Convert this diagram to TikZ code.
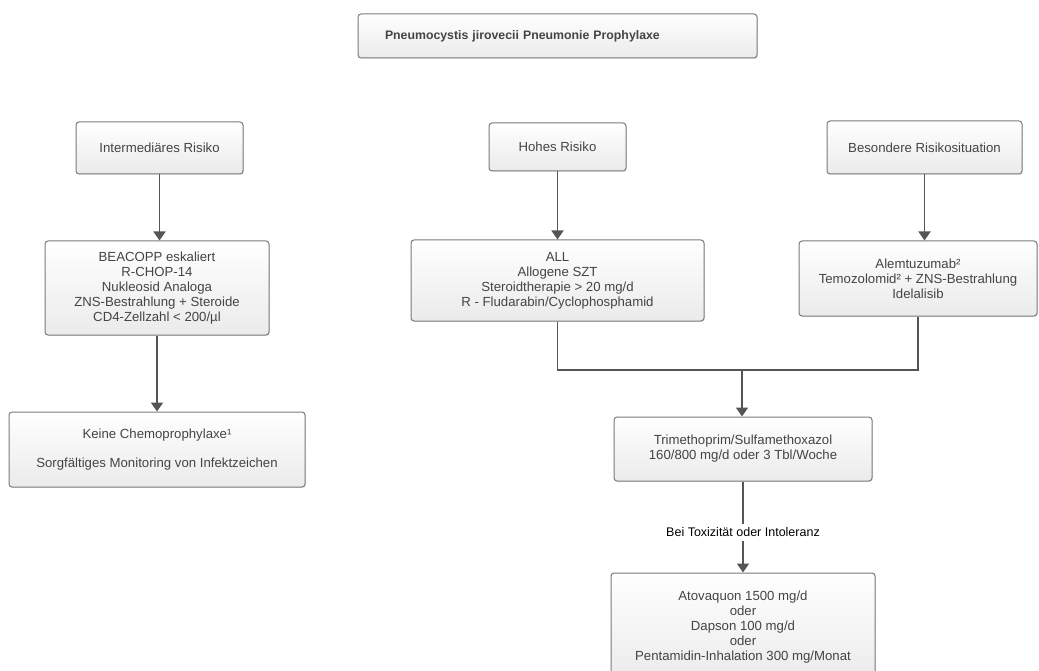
\documentclass[tikz,border=0pt]{standalone}
\usepackage{fontspec}
\setmainfont{Liberation Sans}
\usetikzlibrary{arrows.meta,shadows}
\definecolor{boxline}{HTML}{7A7A7A}
\definecolor{boxtext}{HTML}{444444}
\definecolor{linkcol}{HTML}{555555}
\begin{document}
\begin{tikzpicture}[x=1pt,y=-1pt,>={Triangle[width=12pt,length=9pt]},
  box/.style={draw=boxline,line width=1pt,rounded corners=3pt,top color=white,bottom color=black!8,
    drop shadow={opacity=0.15,shadow xshift=1pt,shadow yshift=-1pt},
    text=boxtext,align=center,inner sep=0pt,font=\fontsize{13.2}{15}\selectfont},
  link/.style={draw=linkcol,line width=1.8pt}]
\useasboundingbox (0,0) rectangle (1039,671);

\node(title)[box,minimum width=399,minimum height=44,text width=345,align=left,font=\bfseries\fontsize{12.3}{15}\selectfont] at (557.5,36){Pneumocystis jirovecii Pneumonie Prophylaxe};

\node(inter)[box,minimum width=167,minimum height=52] at (159.5,148){Intermediäres Risiko};
\node(hohes)[box,minimum width=137,minimum height=48] at (557.5,147){Hohes Risiko};
\node(besond)[box,minimum width=195,minimum height=53] at (924.5,147.5){Besondere Risikosituation};

\node(beacopp)[box,minimum width=224,minimum height=94] at (157,288){BEACOPP eskaliert\\R-CHOP-14\\Nukleosid Analoga\\ZNS-Bestrahlung + Steroide\\CD4-Zellzahl < 200/µl};
\node(all)[box,minimum width=293,minimum height=81] at (557.5,280.5){ALL\\Allogene SZT\\Steroidtherapie > 20 mg/d\\R - Fludarabin/Cyclophosphamid};
\node(alem)[box,minimum width=238,minimum height=75] at (918,278.5){Alemtuzumab²\\Temozolomid² + ZNS-Bestrahlung\\Idelalisib};

\node(keine)[box,minimum width=296,minimum height=75] at (157,449.5){Keine Chemoprophylaxe¹\\[14pt]Sorgfältiges Monitoring von Infektzeichen};
\node(tmp)[box,minimum width=258,minimum height=64] at (743,449){Trimethoprim/Sulfamethoxazol\\160/800 mg/d oder 3 Tbl/Woche};
\node(atov)[box,minimum width=264,minimum height=108] at (743,627){Atovaquon 1500 mg/d\\oder\\Dapson 100 mg/d\\oder\\Pentamidin-Inhalation 300 mg/Monat};

\draw[link,->](inter.south)--(inter.south|-beacopp.north);
\draw[link,->](beacopp.south)--(beacopp.south|-keine.north);
\draw[link,->](hohes.south)--(hohes.south|-all.north);
\draw[link,->](besond.south)--(besond.south|-alem.north);

\coordinate(join) at (742,370);
\draw[link](all.south)--(all.south|-join)--(alem.south|-join)--(alem.south);
\draw[link,->](join)--(join|-tmp.north);
\draw[link,->](tmp.south)--node(tox)[pos=0.56,fill=white,inner xsep=2pt,inner ysep=4pt,font=\fontsize{12.5}{15}\selectfont]{Bei Toxizität oder Intoleranz}(tmp.south|-atov.north);

\end{tikzpicture}
\end{document}
